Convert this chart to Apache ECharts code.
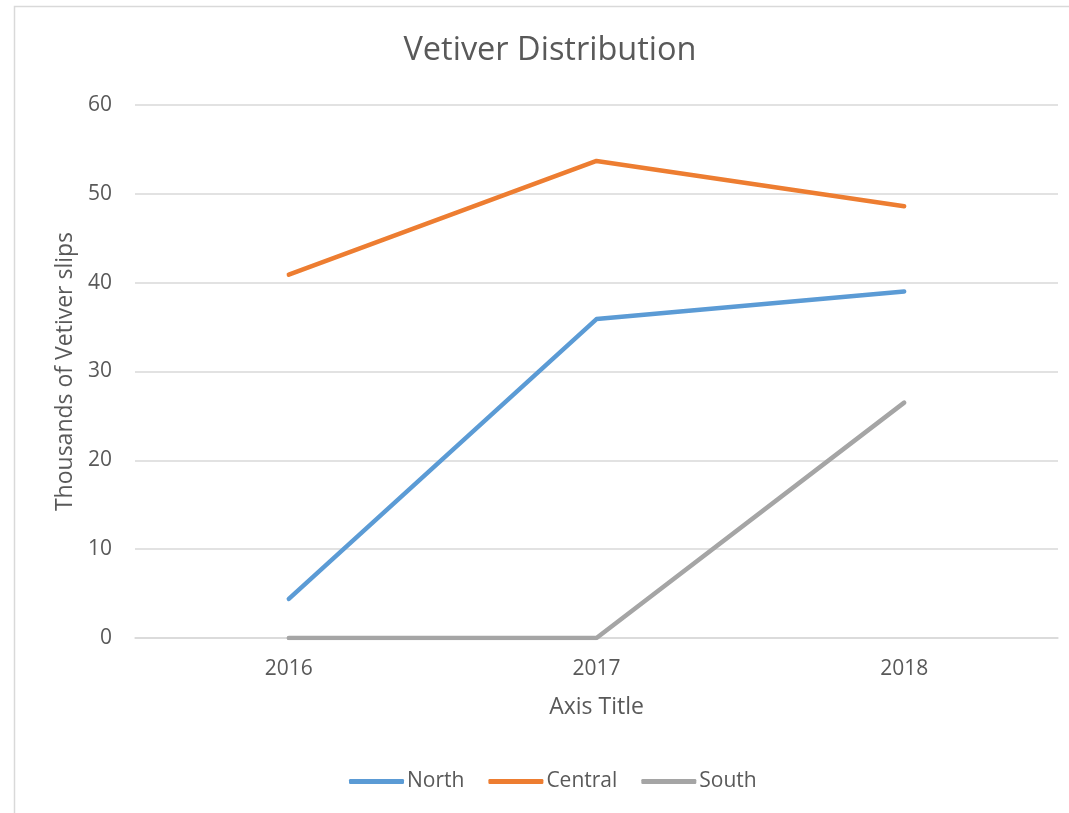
<!DOCTYPE html>
<html>
<head>
<meta charset="utf-8">
<script src="https://cdn.jsdelivr.net/npm/echarts@6/dist/echarts.min.js"></script>
<style>
html,body{margin:0;padding:0;background:#fff;}
#c{width:1069px;height:813px;}
</style>
</head>
<body>
<div id="c"></div>
<script>
var categories = ['2016', '2017', '2018'];
var north = [4.4, 35.9, 39.0];
var central = [40.9, 53.7, 48.6];
var south = [0, 0, 26.5];
var seriesNames = ['North', 'Central', 'South'];
var colors = ['#5B9BD5', '#ED7D31', '#A5A5A5'];

var FONT = '"Open Sans", sans-serif';
var chart = echarts.init(document.getElementById('c'));
function mk(name, data, color) {
  return {
    name: name, type: 'line', data: data, symbol: 'none',
    lineStyle: { width: 4.5, color: color, cap: 'round', join: 'round' },
    itemStyle: { color: color },
    emphasis: { disabled: true }, animation: false
  };
}
chart.setOption({
  animation: false,
  graphic: [
    {
      type: 'rect', shape: { x: 14.5, y: 6.5, width: 1200, height: 1000 },
      style: { fill: 'none', stroke: '#D9D9D9', lineWidth: 1.5 }, silent: true, z: -10
    },
    {
      type: 'text', x: 550, y: 51, silent: true,
      style: { text: 'Vetiver Distribution', fontFamily: FONT, fontSize: 32.5, fill: '#595959', align: 'center', verticalAlign: 'middle' }
    }
  ],
  grid: { left: 135, right: 11, top: 105, bottom: 175, containLabel: false },
  legend: {
    data: seriesNames, top: 766, left: 344, itemWidth: 55, itemHeight: 5, itemGap: 24, icon: 'roundRect',
    textStyle: { fontFamily: FONT, fontSize: 21, color: '#595959', padding: [0, 0, 0, -2] }
  },
  xAxis: {
    type: 'category', data: categories, boundaryGap: true,
    axisLine: { lineStyle: { color: '#D9D9D9', width: 1.5 } },
    axisTick: { show: false },
    axisLabel: { fontFamily: FONT, fontSize: 21, color: '#595959', margin: 21 },
    name: 'Axis Title', nameLocation: 'middle', nameGap: 58,
    nameTextStyle: { fontFamily: FONT, fontSize: 23, color: '#595959' }
  },
  yAxis: {
    type: 'value', min: 0, max: 60, interval: 10,
    axisLine: { show: false }, axisTick: { show: false },
    splitLine: { lineStyle: { color: '#D9D9D9', width: 1.5 } },
    axisLabel: { fontFamily: FONT, fontSize: 21, color: '#595959', margin: 23 },
    name: 'Thousands of Vetiver slips', nameLocation: 'middle', nameGap: 57,
    nameTextStyle: { fontFamily: FONT, fontSize: 23, color: '#595959' }
  },
  series: [mk(seriesNames[0], north, colors[0]), mk(seriesNames[1], central, colors[1]), mk(seriesNames[2], south, colors[2])]
});
</script>
</body>
</html>
